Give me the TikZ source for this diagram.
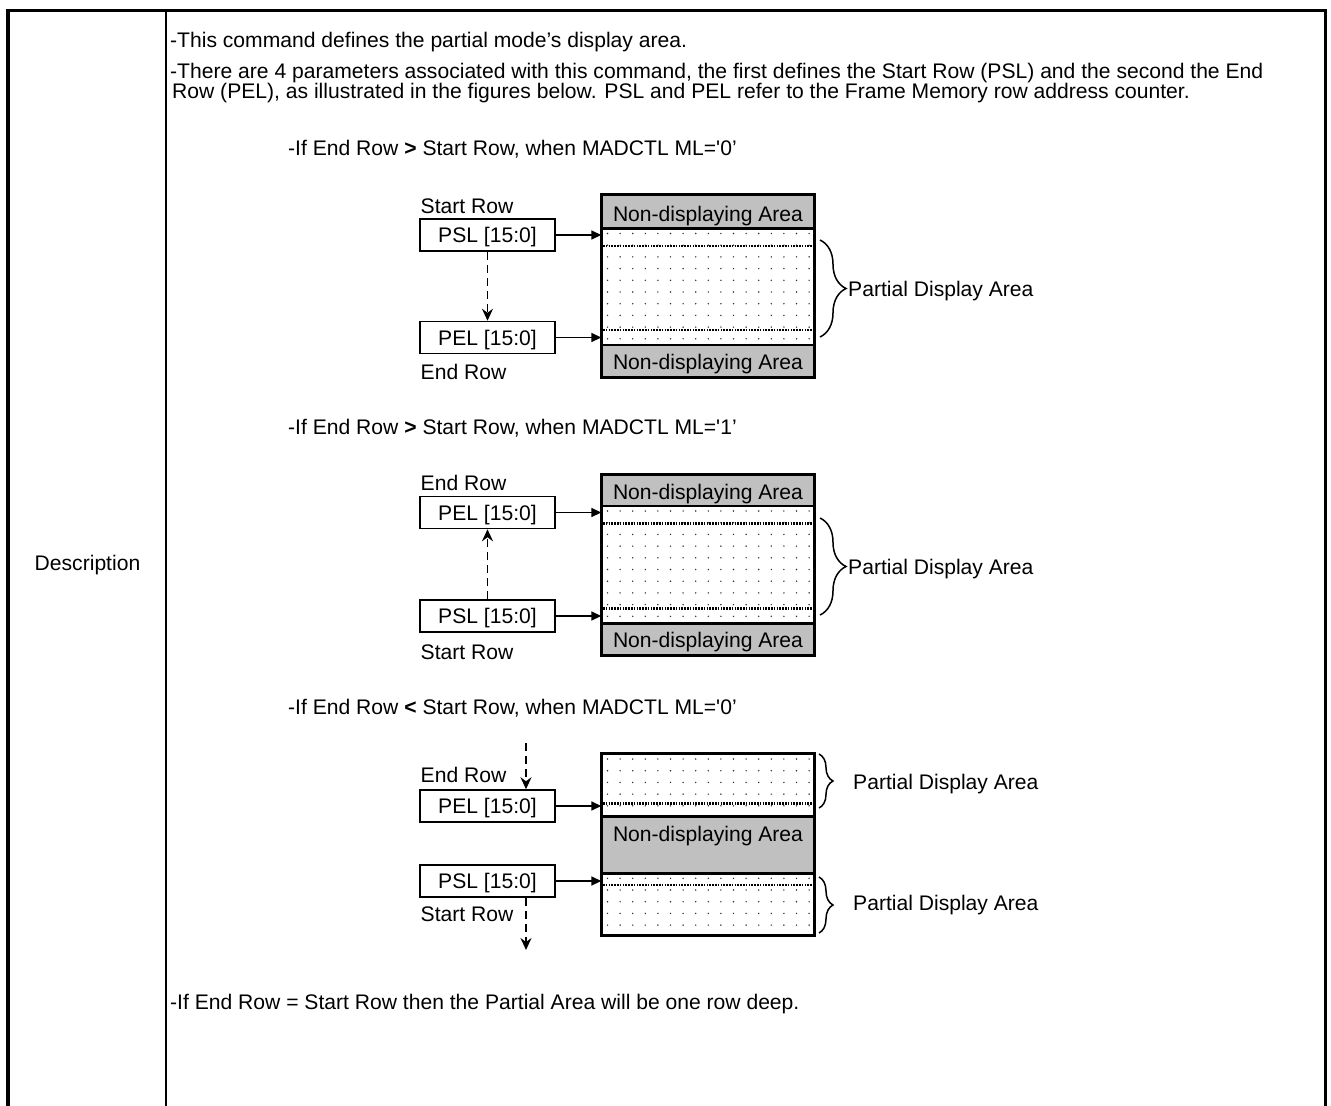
\documentclass[tikz,border=0pt]{standalone}
\usepackage{fontspec}
\setmainfont{Liberation Sans}
\usetikzlibrary{arrows.meta,decorations.pathreplacing}
\definecolor{bandgray}{RGB}{192,192,192}
\definecolor{dotc}{RGB}{50,50,50}
\newcommand\mydots[4]{%
  \pgfmathtruncatemacro\nxx{(#3-#1-6)/12.6}%
  \pgfmathtruncatemacro\nyy{(#4-#2-4)/11.7}%
  \foreach \i in {0,...,\nxx}{\foreach \j in {0,...,\nyy}{%
    \fill[dotc] ({#1+6+12.6*\i},{#2+5+11.7*\j}) circle (0.8);}}}
\tikzset{
  fs/.style={font=\fontsize{21.1}{24}\selectfont},
  txt/.style={fs, anchor=base west, inner sep=0pt},
  ctxt/.style={fs, anchor=base, inner sep=0pt},
  regbox/.style={draw, line width=1.5pt, fill=white, fs, minimum width=135pt,
     minimum height=32pt, inner sep=0pt, text height=15.1pt, text depth=0pt},
  band/.style={draw, line width=2.6pt, fill=bandgray, minimum width=213pt, inner sep=0pt},
  frame/.style={line width=2.8pt},
  area/.style={draw=none, minimum width=213pt, inner sep=0pt},
  solidarr/.style={-{Triangle[length=10pt,width=9pt]}, line width=1.6pt},
  dasharr/.style={-{Stealth[length=12pt,width=11pt,inset=4pt]}, line width=1.7pt, dash pattern=on 8pt off 5pt},
  rowline/.style={line width=2.4pt, dash pattern=on 1.5pt off 1.3pt},
  brc/.style={decorate, decoration={brace, amplitude=#1}, line width=1.5pt},
}
\begin{document}
\begin{tikzpicture}[x=1pt,y=-1pt]
\useasboundingbox (0,0) rectangle (1331,1106);
\fill[white] (0,0) rectangle (1331,1106);

% table frame
\draw[line width=3.5pt] (8,1106) -- (8,10.5) -- (1325.5,10.5) -- (1325.5,1106);
\draw[line width=1.6pt] (166,10.5) -- (166,1106);
\node[ctxt] (desc) at (87.5,570.5) {Description};

% description text
\node[txt] (l1) at (170,47) {-This command defines the partial mode’s display area.};
\node[txt] (l2) at (170,78) {-There are 4 parameters associated with this command, the first defines the Start Row (PSL) and the second the End};
\node[txt] (l3) at (172,98.5) {Row (PEL), as illustrated in the figures below. PSL and PEL refer to the Frame Memory row address counter.};
\node[txt] (h1) at (288,155.8) {-If End Row \textbf{>} Start Row, when MADCTL ML=\textquotesingle 0’};
\node[txt] (h2) at (288,434.5) {-If End Row \textbf{>} Start Row, when MADCTL ML=\textquotesingle 1’};
\node[txt] (h3) at (288,714.5) {-If End Row \textbf{<} Start Row, when MADCTL ML=\textquotesingle 0’};
\node[txt] (last) at (170,1009) {-If End Row = Start Row then the Partial Area will be one row deep.};

% ================= diagram 1 =================
\mydots{601.5}{228.5}{814.5}{345}
\draw[rowline] (603,245.7) -- (813,245.7);
\draw[rowline] (603,330) -- (813,330);
\node[area, minimum height=182.5pt] (m1) at (708,286.25) {};
\node[band, minimum height=33.3pt] (t1) at (708,211.65) {};
\node[band, minimum height=32.7pt] (b1) at (708,361.35) {};
\draw[frame] (m1.north west) rectangle (m1.south east);
\node[ctxt] (t1l) at (708,221.4) {Non-displaying Area};
\node[ctxt] (b1l) at (708,369.9) {Non-displaying Area};
\node[regbox] (psl1) at (487.5,235) {PSL [15:0]};
\node[regbox] (pel1) at (487.5,337.5) {PEL [15:0]};
\node[txt] (sr1) at (420.5,213) {Start Row};
\node[txt] (er1) at (420.5,379.5) {End Row};
\draw[solidarr] (psl1.east) -- (psl1.east -| m1.west);
\draw[solidarr] (pel1.east) -- (pel1.east -| m1.west);
\draw[dasharr] (psl1.south) -- (pel1.north);
\coordinate (br1a) at (820,240);
\coordinate (br1b) at (820,337);
\draw[brc=26pt] (br1a) -- (br1b);
\node[txt] (pd1) at (848,296.5) {Partial Display Area};

% ================= diagram 2 =================
\mydots{601.5}{506}{814.5}{623.5}
\draw[rowline] (603,523.3) -- (813,523.3);
\draw[rowline] (603,608.3) -- (813,608.3);
\node[area, minimum height=180.5pt] (m2) at (708,564.75) {};
\node[band, minimum height=31.5pt] (t2) at (708,490.25) {};
\node[band, minimum height=31.5pt] (b2) at (708,639.25) {};
\draw[frame] (m2.north west) rectangle (m2.south east);
\node[ctxt] (t2l) at (708,499) {Non-displaying Area};
\node[ctxt] (b2l) at (708,647.4) {Non-displaying Area};
\node[regbox] (pel2) at (487.5,512.5) {PEL [15:0]};
\node[regbox] (psl2) at (487.5,616) {PSL [15:0]};
\node[txt] (er2) at (420.5,490.5) {End Row};
\node[txt] (sr2) at (420.5,659) {Start Row};
\draw[solidarr] (pel2.east) -- (pel2.east -| m2.west);
\draw[solidarr] (psl2.east) -- (psl2.east -| m2.west);
\draw[dasharr] (psl2.north) -- (pel2.south);
\coordinate (br2a) at (820,518);
\coordinate (br2b) at (820,615);
\draw[brc=26pt] (br2a) -- (br2b);
\node[txt] (pd2) at (848,574) {Partial Display Area};

% ================= diagram 3 =================
\mydots{601.5}{754}{814.5}{816.7}
\mydots{601.5}{873.3}{814.5}{935.5}
\draw[rowline] (603,803.3) -- (813,803.3);
\draw[rowline] (603,885) -- (813,885);
\node[area, minimum height=181.5pt] (m3) at (708,844.75) {};
\node[band, minimum height=56.6pt] (c3) at (708,845) {};
\draw[frame] (m3.north west) rectangle (m3.south east);
\node[ctxt] (c3l) at (708,841) {Non-displaying Area};
\node[regbox] (pel3) at (487.5,806) {PEL [15:0]};
\node[regbox] (psl3) at (487.5,881) {PSL [15:0]};
\node[txt] (er3) at (420.5,782.5) {End Row};
\node[txt] (sr3) at (420.5,921) {Start Row};
\draw[solidarr] (pel3.east) -- (pel3.east -| m3.west);
\draw[solidarr] (psl3.east) -- (psl3.east -| m3.west);
\coordinate (d3a) at (526,743);
\coordinate (d3b) at (526,950);
\draw[dasharr] (d3a) -- (d3a |- pel3.north);
\draw[dasharr] (d3b |- psl3.south) -- (d3b);
\coordinate (br3a) at (819,754);
\coordinate (br3b) at (819,808);
\draw[brc=14pt] (br3a) -- (br3b);
\coordinate (br3c) at (819,877);
\coordinate (br3d) at (819,933);
\draw[brc=14pt] (br3c) -- (br3d);
\node[txt] (pd3a) at (853,789.5) {Partial Display Area};
\node[txt] (pd3b) at (853,910.5) {Partial Display Area};
\end{tikzpicture}
\end{document}
